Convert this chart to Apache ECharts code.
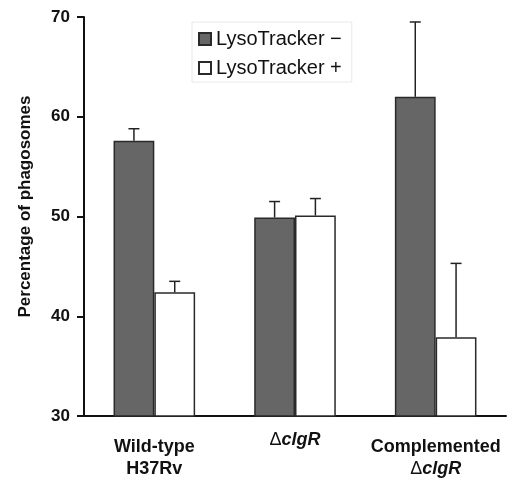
<!DOCTYPE html>
<html><head><meta charset="utf-8">
<script src="https://cdn.jsdelivr.net/npm/echarts@6/dist/echarts.min.js"></script>
<style>html,body{margin:0;padding:0;background:#fff}#c{width:507px;height:479px}</style>
</head><body><div id="c"></div>
<script>
var categories = ['Wild-type\nH37Rv', '\u0394clgR', 'Complemented\n\u0394clgR'];
var seriesNames = ['LysoTracker \u2212', 'LysoTracker +'];
var negValues = [57.6, 49.9, 62.0];
var negErr = [1.2, 1.6, 7.5];
var posValues = [42.4, 50.1, 37.9];
var posErr = [1.1, 1.7, 7.4];
var yTicks = [30, 40, 50, 60, 70];

var BAR_FRAC = 0.29;
function errData(vals, errs) {
  return vals.map(function (v, i) { return [i, v, v + errs[i]]; });
}
function errSeries(vals, errs, side) {
  return {
    type: 'custom', z: 5, silent: true,
    data: errData(vals, errs),
    renderItem: function (params, api) {
      var band = api.size([1, 0])[0];
      var bw = band * BAR_FRAC;
      var base = api.coord([api.value(0), api.value(1)]);
      var top = api.coord([api.value(0), api.value(2)]);
      var x = base[0] + side * bw / 2;
      var cap = 5.5;
      var st = { stroke: '#222', lineWidth: 1.5 };
      return { type: 'group', children: [
        { type: 'line', shape: { x1: x, y1: base[1], x2: x, y2: top[1] }, style: st },
        { type: 'line', shape: { x1: x - cap, y1: top[1], x2: x + cap, y2: top[1] }, style: st }
      ]};
    }
  };
}
function fmtCat(v) {
  var lines = v.split('\n');
  var single = lines.length === 1;
  return lines.map(function (line) {
    if (line.charAt(0) === '\u0394') {
      return single ? '{ds|\u0394}{is|' + line.slice(1) + '}' : '{d|\u0394}{i|' + line.slice(1) + '}';
    }
    return '{b|' + line + '}';
  }).join('\n');
}
var chart = echarts.init(document.getElementById('c'));
chart.setOption({
  animation: false,
  textStyle: { fontFamily: 'Liberation Sans, Arial, sans-serif' },
  grid: { left: 84, right: 1, top: 17, bottom: 63 },
  legend: {
    orient: 'vertical', left: 192, top: 22,
    padding: [7, 10, 4, 6], itemGap: 9,
    itemWidth: 12, itemHeight: 12, icon: 'rect',
    borderColor: '#e8e8e8', borderWidth: 1,
    textStyle: { fontSize: 20, color: '#111', fontFamily: 'Liberation Sans, Arial, sans-serif' },
    data: seriesNames
  },
  xAxis: {
    type: 'category', data: categories,
    axisLine: { lineStyle: { color: '#111', width: 2 } },
    axisTick: { length: 7, lineStyle: { color: '#111', width: 2 } },
    axisLabel: {
      margin: 20, formatter: fmtCat, color: '#111',
      rich: {
        b: { fontSize: 18, fontWeight: 'bold', lineHeight: 22, color: '#111' },
        i: { fontSize: 18, fontWeight: 'bold', fontStyle: 'italic', lineHeight: 22, color: '#111' },
        d: { fontSize: 18, lineHeight: 22, color: '#111' },
        is: { fontSize: 18, fontWeight: 'bold', fontStyle: 'italic', lineHeight: 8, color: '#111' },
        ds: { fontSize: 18, lineHeight: 8, color: '#111' }
      }
    }
  },
  yAxis: {
    type: 'value', min: yTicks[0], max: yTicks[yTicks.length - 1], interval: 10,
    name: 'Percentage of phagosomes', nameLocation: 'middle', nameGap: 50,
    nameTextStyle: { fontSize: 17, fontWeight: 'bold', color: '#111', padding: [0, 0, 0, 20] },
    axisLine: { show: true, lineStyle: { color: '#111', width: 2 } },
    axisTick: { show: true, length: 7, lineStyle: { color: '#111', width: 2 } },
    axisLabel: { margin: 14, fontSize: 17, fontWeight: 'bold', color: '#111' },
    splitLine: { show: false }
  },
  series: [
    { name: seriesNames[0], type: 'bar', data: negValues, barWidth: (BAR_FRAC * 100) + '%', barGap: '0%',
      itemStyle: { color: '#666666', borderColor: '#2a2a2a', borderWidth: 1.5 } },
    { name: seriesNames[1], type: 'bar', data: posValues, barWidth: (BAR_FRAC * 100) + '%', barGap: '0%',
      itemStyle: { color: '#ffffff', borderColor: '#2a2a2a', borderWidth: 1.5 } },
    errSeries(negValues, negErr, -1),
    errSeries(posValues, posErr, 1)
  ]
});
</script></body></html>
